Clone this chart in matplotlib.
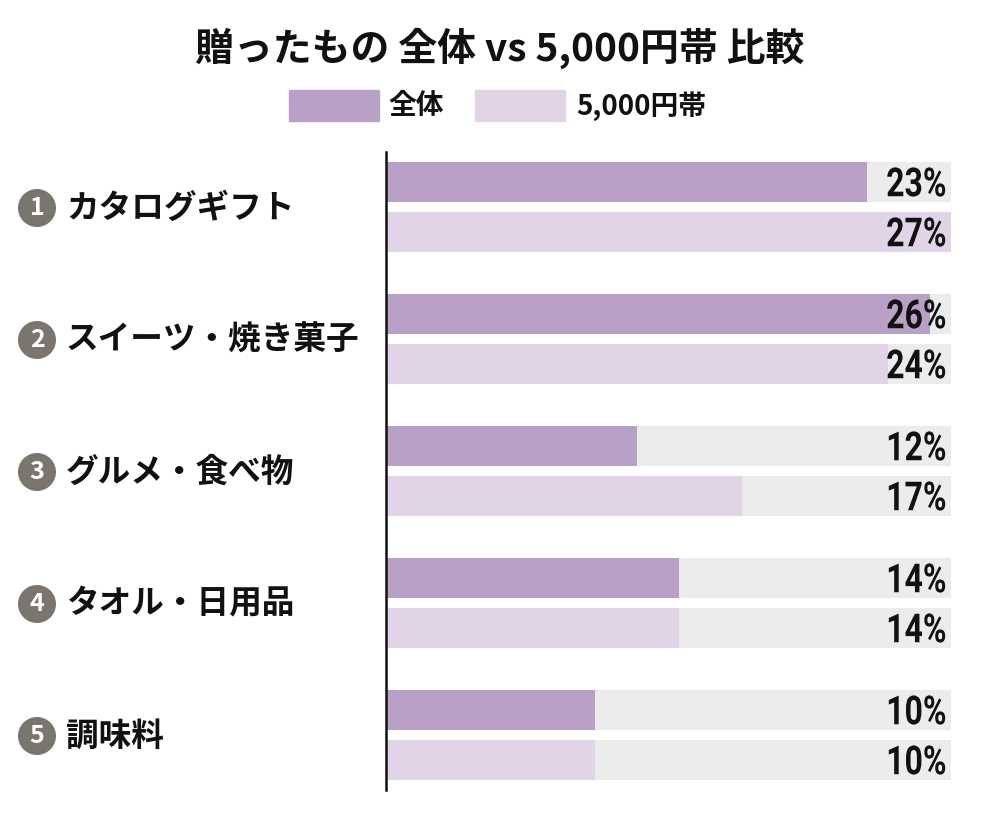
import numpy as np
import matplotlib.pyplot as plt
from matplotlib.textpath import TextPath
from matplotlib.patches import PathPatch
from matplotlib.transforms import Affine2D
from matplotlib.font_manager import FontProperties

plt.rcParams['font.family'] = ['Noto Sans CJK JP', 'DejaVu Sans']

categories = ['カタログギフト', 'スイーツ・焼き菓子', 'グルメ・食べ物', 'タオル・日用品', '調味料']
all_vals = [23, 26, 12, 14, 10]
band_vals = [27, 24, 17, 14, 10]
series_names = ['全体', '5,000円帯']

c_all = '#b9a0c7'
c_band = '#e0d4e6'
c_bg = '#ececec'
c_num = '#7a756f'

fig = plt.figure(figsize=(10, 8.39), dpi=100)
ax = fig.add_axes([0.386, 1 - 790 / 839, 0.565, (790 - 152) / 839])

n = len(categories)
y = np.arange(n)
h = 40 / 132
off = 25 / 132
xmax = max(max(all_vals), max(band_vals))

ax.barh(y - off, [xmax] * n, height=h, color=c_bg)
ax.barh(y + off, [xmax] * n, height=h, color=c_bg)
ax.barh(y - off, all_vals, height=h, color=c_all)
ax.barh(y + off, band_vals, height=h, color=c_band)

ax.set_xlim(0, xmax)
ax.set_ylim(n - 1 + 55 / 132, -55 / 132)
for s in ['top', 'right', 'bottom']:
    ax.spines[s].set_visible(False)
ax.spines['left'].set_linewidth(1.8)
ax.spines['left'].set_color('#111111')
ax.set_xticks([])
ax.set_yticks([])

# condensed bold percent labels (squeezed glyph paths, pixel units)
pct_fp = FontProperties(family='Roboto', weight='bold')


def pct_label(xv, yv, s, em=40.0, squeeze=0.8):
    tp = TextPath((0, 0), s, size=1, prop=pct_fp)
    ext = tp.get_extents()
    px, py = ax.transData.transform((xv, yv))
    tr = (Affine2D().translate(-ext.x1, -(ext.y0 + ext.y1) / 2)
          .scale(em * squeeze, em).translate(px, py))
    fig.add_artist(PathPatch(tp, transform=tr, fc='#111111', ec='none'))


for i in range(n):
    pct_label(xmax - 0.28, y[i] - off, f'{all_vals[i]}%')
    pct_label(xmax - 0.28, y[i] + off, f'{band_vals[i]}%')

# category labels with numbered circles
for i, cat in enumerate(categories):
    yc = 1 - (208 + 132 * i) / 839
    fig.text(0.037, yc, str(i + 1), ha='center', va='center', color='white',
             fontsize=18, fontweight='bold',
             bbox=dict(boxstyle='circle,pad=0.28', fc=c_num, ec='none'))
    fig.text(0.066, yc, cat, ha='left', va='center', fontsize=23.5,
             fontweight='bold', color='#111111')

# title
fig.text(0.5, 1 - 48 / 839, '贈ったもの 全体 vs 5,000円帯 比較', ha='center', va='center',
         fontsize=28, fontweight='bold', color='#111111')

# legend
ly = 1 - 106 / 839
fig.patches.append(plt.Rectangle((0.289, 1 - 121 / 839), 0.090, 31 / 839,
                                 transform=fig.transFigure, color=c_all))
fig.text(0.388, ly, series_names[0], ha='left', va='center', fontsize=20,
         fontweight='bold', color='#111111')
fig.patches.append(plt.Rectangle((0.475, 1 - 121 / 839), 0.090, 31 / 839,
                                 transform=fig.transFigure, color=c_band))
fig.text(0.576, ly, series_names[1], ha='left', va='center', fontsize=20,
         fontweight='bold', color='#111111')

fig.savefig('out.png', dpi=100, facecolor='white')
